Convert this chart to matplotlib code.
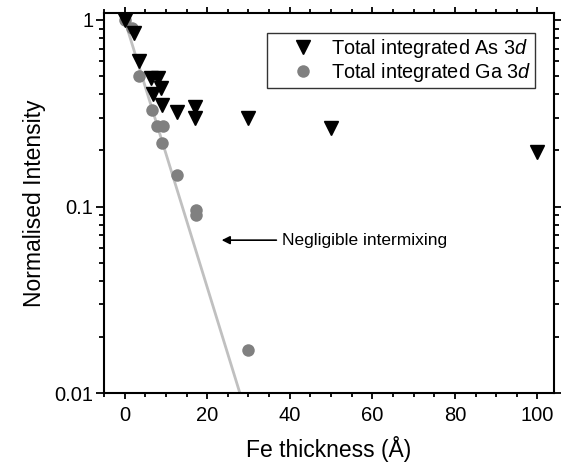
import numpy as np
import matplotlib
matplotlib.use("Agg")
import matplotlib.pyplot as plt
from matplotlib.ticker import MultipleLocator, LogLocator, NullFormatter, FixedLocator, FixedFormatter

plt.rcParams['font.family'] = ['Liberation Sans', 'DejaVu Sans']
plt.rcParams['mathtext.fontset'] = 'custom'
plt.rcParams['mathtext.rm'] = 'Liberation Sans'
plt.rcParams['mathtext.it'] = 'Liberation Sans:italic'

# As 3d data (thickness in Angstrom, normalised intensity)
as_thick = [0, 2.2, 3.4, 6.5, 8.0, 8.7, 6.8, 9.0, 12.6, 17, 17, 30, 50, 100]
as_int = [1.0, 0.85, 0.60, 0.49, 0.49, 0.43, 0.40, 0.35, 0.32, 0.34, 0.30, 0.30, 0.264, 0.196]

# Ga 3d data
ga_thick = [0, 1.9, 3.4, 6.6, 7.8, 9.2, 9.0, 12.6, 17.2, 17.2, 29.9]
ga_int = [1.0, 0.91, 0.50, 0.33, 0.27, 0.27, 0.22, 0.148, 0.096, 0.090, 0.017]

# no-intermixing attenuation line, I = exp(-d/lambda)
lam = 6.06
line_x = np.array([0, 28.5])
line_y = np.exp(-line_x / lam)

fig = plt.figure(figsize=(5.61, 4.75), dpi=100)
ax = fig.add_axes([0.1854, 0.1726, 0.8021, 0.80])

ax.plot(line_x, line_y, '-', color='#c0c0c0', lw=2, zorder=1)
ax.plot(as_thick, as_int, 'v', color='black', ms=10, zorder=3,
        label=r'Total integrated As 3$\it{d}$')
ax.plot(ga_thick, ga_int, 'o', color='#808080', mec='none', ms=9, zorder=2,
        label=r'Total integrated Ga 3$\it{d}$')

ax.set_yscale('log')
ax.set_xlim(-5, 104)
ax.set_ylim(0.01, 1.09)

ax.xaxis.set_major_locator(MultipleLocator(20))
ax.xaxis.set_minor_locator(MultipleLocator(5))
ax.yaxis.set_major_locator(FixedLocator([0.01, 0.1, 1]))
ax.yaxis.set_major_formatter(FixedFormatter(['0.01', '0.1', '1']))
ax.yaxis.set_minor_locator(LogLocator(base=10, subs=np.arange(2, 10)))
ax.yaxis.set_minor_formatter(NullFormatter())

ax.tick_params(which='both', direction='out', top=True, right=True, width=1.3,
               labelsize=14.5, colors='black')
ax.tick_params(axis='y', which='major', length=5.5, pad=2)
ax.tick_params(axis='y', which='minor', length=3.5)
ax.tick_params(axis='x', which='major', length=4.5, pad=5)
ax.tick_params(axis='x', which='minor', length=3)
for s in ax.spines.values():
    s.set_linewidth(1.5)

ax.set_xlabel('Fe thickness (Å)', fontsize=16.5, labelpad=8)
ax.set_ylabel('Normalised Intensity', fontsize=16.5, labelpad=6)

ax.annotate('Negligible intermixing', xy=(23.5, 0.066), xytext=(38.1, 0.066),
            fontsize=12.5, va='center', ha='left',
            arrowprops=dict(arrowstyle='-|>', color='black', lw=1.2,
                            shrinkA=2, shrinkB=0, mutation_scale=12))

leg = ax.legend(loc='upper right', bbox_to_anchor=(0.958, 0.947), borderaxespad=0,
                fontsize=14.3, frameon=True, fancybox=False, handletextpad=-0.2,
                handlelength=3.2, borderpad=0.2, labelspacing=0.05)
leg.get_frame().set_edgecolor('black')
leg.get_frame().set_linewidth(1.0)

fig.savefig('out.png', dpi=100)
